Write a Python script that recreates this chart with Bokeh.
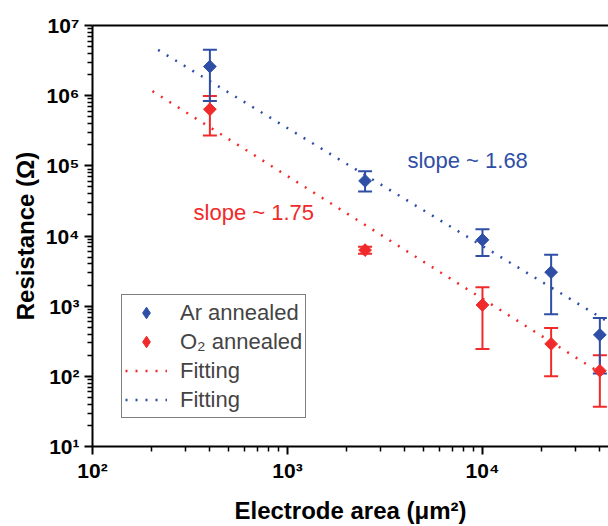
import numpy as np
from bokeh.plotting import figure
from bokeh.models import (ColumnDataSource, Whisker, TeeHead, Legend, LegendItem,
                          Label, FixedTicker, LogAxis, Range1d)
from bokeh.embed import file_html
from bokeh.resources import INLINE

# ---- data ----
area = [400, 2500, 10000, 22500, 40000]          # electrode area (um^2)
ar_r = [2.6e6, 6.1e4, 8.8e3, 3.05e3, 3.9e2]       # Ar annealed resistance
ar_hi = [4.5e6, 8.4e4, 1.25e4, 5.4e3, 6.8e2]
ar_lo = [8.4e5, 4.3e4, 5.2e3, 7.7e2, 1.1e2]
o2_r = [6.4e5, 6.3e3, 1.04e3, 2.9e2, 1.2e2]       # O2 annealed resistance
o2_hi = [9.9e5, 7.0e3, 1.86e3, 4.9e2, 2.0e2]
o2_lo = [2.7e5, 5.6e3, 2.45e2, 1.0e2, 3.7e1]
fit_ar_x = [217, 45000]
fit_ar_y = [4.49e6, 5.77e2]
fit_o2_x = [203, 45000]
fit_o2_y = [1.16e6, 9.2e1]

x_ticks = [1e2, 1e3, 1e4]
x_labels = ["10²", "10³", "10⁴"]
y_ticks = [1e1, 1e2, 1e3, 1e4, 1e5, 1e6, 1e7]
y_labels = ["10¹", "10²", "10³", "10⁴", "10⁵", "10⁶", "10⁷"]

BLUE = "#2F4EA6"
RED = "#F02A2A"
FONT = "Liberation Sans"

p = figure(width=608, height=526, x_axis_type="log", y_axis_type="log",
           x_range=Range1d(100, 44300), y_range=Range1d(10, 1e7),
           output_backend="svg", toolbar_location=None,
           min_border_left=92, min_border_right=0, min_border_top=25,
           min_border_bottom=79)
p.outline_line_color = None
p.grid.visible = False
p.background_fill_color = "white"

x_minor = [k * 10 ** d for d in range(2, 5) for k in range(2, 10)]
y_minor = [k * 10 ** d for d in range(1, 7) for k in range(2, 10)]
p.xaxis.ticker = FixedTicker(ticks=x_ticks, minor_ticks=x_minor)
p.yaxis.ticker = FixedTicker(ticks=y_ticks, minor_ticks=y_minor)
p.xaxis.major_label_overrides = dict(zip(x_ticks, x_labels))
p.yaxis.major_label_overrides = dict(zip(y_ticks, y_labels))

for ax in (p.xaxis, p.yaxis):
    ax.axis_line_width = 2
    ax.axis_line_color = "black"
    ax.major_tick_line_width = 2
    ax.major_tick_out = 8
    ax.major_tick_in = 0
    ax.minor_tick_line_width = 1.5
    ax.minor_tick_out = 5
    ax.minor_tick_in = 0
    ax.major_label_text_font = FONT
    ax.major_label_text_font_style = "bold"
    ax.major_label_text_font_size = "21px"
    ax.major_label_text_color = "black"
    ax.axis_label_text_font = FONT
    ax.axis_label_text_font_style = "bold"
    ax.axis_label_text_font_size = "24px"
    ax.axis_label_text_color = "black"

p.xaxis.axis_label = "Electrode area (μm²)"
p.yaxis.axis_label = "Resistance (Ω)"
p.xaxis.major_label_standoff = 4
p.xaxis.axis_label_standoff = 12
p.yaxis.major_label_standoff = 5
p.yaxis.axis_label_standoff = 4

top = LogAxis(ticker=FixedTicker(ticks=[], minor_ticks=[]), axis_line_width=2,
              axis_line_color="black", major_label_text_font_size="0px",
              major_tick_line_color=None, minor_tick_line_color=None)
p.add_layout(top, "above")

src_ar = ColumnDataSource(dict(x=area, y=ar_r, hi=ar_hi, lo=ar_lo))
src_o2 = ColumnDataSource(dict(x=area, y=o2_r, hi=o2_hi, lo=o2_lo))

r_fit_o2 = p.line(fit_o2_x, fit_o2_y, line_color=RED, line_width=2.5, line_dash="2 8")
r_fit_ar = p.line(fit_ar_x, fit_ar_y, line_color=BLUE, line_width=2.5, line_dash="2 8")

for src, col in ((src_o2, RED), (src_ar, BLUE)):
    w = Whisker(source=src, base="x", upper="hi", lower="lo", line_color=col,
                line_width=2,
                upper_head=TeeHead(size=14, line_color=col, line_width=2),
                lower_head=TeeHead(size=14, line_color=col, line_width=2))
    p.add_layout(w)

p.scatter("x", "y", source=src_o2, marker="square", angle=np.pi / 4,
          size=9, fill_color=RED, line_color=RED)
p.scatter("x", "y", source=src_ar, marker="square", angle=np.pi / 4,
          size=9, fill_color=BLUE, line_color=BLUE)

# marker renderers used only for the legend swatches (diamond shape, not plotted)
leg_ar = p.scatter(x=[np.nan], y=[np.nan], marker="diamond", size=12,
                   fill_color=BLUE, line_color=BLUE)
leg_o2 = p.scatter(x=[np.nan], y=[np.nan], marker="diamond", size=12,
                   fill_color=RED, line_color=RED)

legend = Legend(items=[LegendItem(label="Ar annealed", renderers=[leg_ar], index=0),
                       LegendItem(label="O₂ annealed", renderers=[leg_o2], index=0),
                       LegendItem(label="Fitting", renderers=[r_fit_o2]),
                       LegendItem(label="Fitting", renderers=[r_fit_ar])],
                location=(29, 28), label_text_font=FONT,
                label_text_font_size="22px", glyph_width=42, glyph_height=29,
                label_height=29, spacing=0, padding=3, label_standoff=13,
                border_line_color="black", border_line_width=1,
                background_fill_alpha=1)
p.add_layout(legend)

p.add_layout(Label(x=4120, y=1.2e5, text="slope ~ 1.68", text_color=BLUE,
                   text_font=FONT, text_font_size="22px", text_baseline="middle"))
p.add_layout(Label(x=330, y=2.19e4, text="slope ~ 1.75", text_color=RED,
                   text_font=FONT, text_font_size="22px", text_baseline="middle"))

open("out.html", "w").write(file_html(p, INLINE))
